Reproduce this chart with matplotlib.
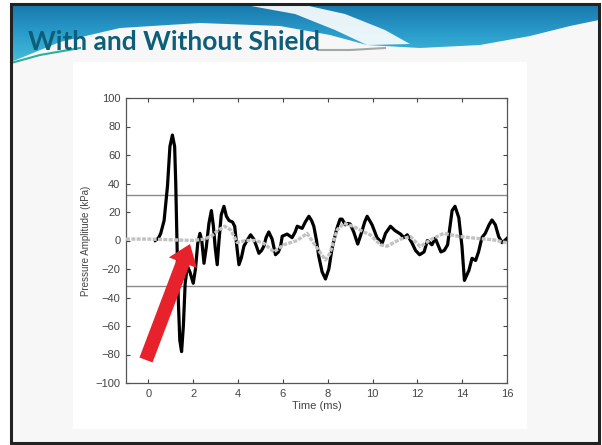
import matplotlib
matplotlib.use("Agg")
import matplotlib.pyplot as plt
import numpy as np
from matplotlib.patches import Polygon, Rectangle
from matplotlib.colors import LinearSegmentedColormap

# data
# unshielded (black) trace
t_open = [0.30, 0.45, 0.55, 0.70, 0.85, 0.96, 1.07, 1.17, 1.22, 1.26, 1.33, 1.40,
          1.48, 1.56, 1.64, 1.74, 1.85, 2.00, 2.10, 2.20, 2.30, 2.38, 2.48, 2.58, 2.70,
          2.81, 2.90, 2.98, 3.07, 3.15, 3.25, 3.37, 3.48, 3.60, 3.75, 3.85, 3.95, 4.04,
          4.15, 4.26, 4.40, 4.56, 4.70, 4.82, 4.93, 5.05, 5.15, 5.25, 5.37, 5.52, 5.67,
          5.80, 5.90, 5.97, 6.19, 6.41, 6.55, 6.64, 6.86, 7.00, 7.16, 7.28, 7.38, 7.50,
          7.60, 7.75, 7.90, 8.05, 8.20, 8.40, 8.55, 8.64, 8.79, 8.90, 9.00, 9.16, 9.34,
          9.53, 9.65, 9.76, 9.87, 9.98, 10.20, 10.43, 10.58, 10.80, 11.00, 11.25, 11.40,
          11.55, 11.77, 11.92, 12.10, 12.30, 12.45, 12.65, 12.80, 13.05, 13.20, 13.35,
          13.55, 13.68, 13.85, 13.99, 14.10, 14.30, 14.44, 14.60, 14.73, 14.88, 15.03,
          15.20, 15.33, 15.48, 15.63, 15.78, 15.90, 16.00]
p_open = [0, 1.7, 5, 14, 38, 66, 74, 66, 40, 10, -40, -70,
          -78, -60, -30, -18, -22, -30, -20, -2, 5, 0, -16, -5, 12,
          21, 10, -5, -17, 0, 18, 24, 17, 14, 13, 10, -5, -17,
          -12, -4, 0, 4, 1, -4, -9, -7, -4, 2, 6, 1, -10,
          -8, -4, 3, 4.5, 2, 6, 10, 8.5, 13, 17, 14, 10, 0,
          -11, -22, -27, -20, -5, 8, 15, 15, 11, 12, 11.6, 6, -2.5,
          6.5, 13, 17, 14, 11, 2, -2, 5, 10, 7, 4.5, 2,
          4, -2, -7, -10, -8, 0, -3, 1.5, -8, -7, -3,
          21, 24, 16, -4, -28, -21, -12.5, -14, -8, 2, 5,
          11, 14.4, 11, 2.7, -1.5, 0, 1.5]

# shielded (grey) trace
t_shield = [-1.0, 0.0, 1.0, 2.0, 2.5, 2.8, 3.1, 3.4, 3.67, 3.96, 4.34, 4.78, 5.15, 5.60,
            6.04, 6.64, 7.08, 7.38, 7.60, 7.90, 8.10, 8.42, 8.72, 9.16, 9.60, 9.90, 10.35,
            10.65, 11.25, 11.69, 12.13, 12.58, 13.17, 13.92, 14.66, 15.40, 15.84, 16.0]
p_shield = [1, 1, 0.5, 0, 1, 3, 7, 10, 7.4, -1.4, 0, 0, -2, -8,
            -3, 0, 5, -2, -7, -13.7, -9, 7.4, 12, 9.8, 6, 4, -3,
            -4, 1, 2.7, -4.3, 0.5, 5, 2.7, 1.5, 0.5, -1.2, -1.5]

threshold = 32
x_ticks = list(range(0, 17, 2))
y_ticks = list(range(-100, 101, 20))

W, H = 602, 445
fig = plt.figure(figsize=(W / 100, H / 100), dpi=100, facecolor="white")

# slide background in pixel coordinates (y down)
bg = fig.add_axes([0, 0, 1, 1], zorder=0)
bg.set_xlim(0, W)
bg.set_ylim(H, 0)
bg.axis("off")

bg.add_patch(Rectangle((11, 4), 588, 439, facecolor="#f7f7f7", edgecolor="none"))
bg.add_patch(Rectangle((73, 62), 454, 367, facecolor="white", edgecolor="none"))

# blue header band
band = Polygon([(11, 4), (599, 4), (599, 20), (570, 26), (530, 36), (480, 45), (420, 48),
                (367, 45), (330, 35), (280, 26), (200, 23), (120, 28), (60, 42), (11, 62)],
               closed=True, facecolor="none", edgecolor="none")
bg.add_patch(band)
grad = np.linspace(0, 1, 64).reshape(-1, 1)
cmap = LinearSegmentedColormap.from_list("hdr", ["#1778ab", "#2a9ccb", "#45bcd8"])
im = bg.imshow(grad, cmap=cmap, extent=(11, 599, 62, 4), aspect="auto", zorder=1)
im.set_clip_path(band)
bg.set_xlim(0, W)
bg.set_ylim(H, 0)

# white swoosh inside the band
bg.add_patch(Polygon([(240, 4), (300, 4), (345, 14), (385, 30), (410, 44), (367, 45),
                      (335, 30), (295, 14)], closed=True, facecolor="white",
                     edgecolor="none", alpha=0.9, zorder=2))
bg.plot([11, 40, 80], [63, 55, 48], color="#2fae9a", lw=1.5, zorder=2)
bg.plot([318, 350, 385], [50, 50, 48], color="#a0a8a8", lw=1.5, zorder=2)

# slide frame
bg.add_patch(Rectangle((11, 4), 588, 439, facecolor="none", edgecolor="#222222",
                       lw=2.2, zorder=3))

bg.text(28, 42, "With and Without Shield", fontsize=19, fontweight="bold",
        color="#0d5e78", family="Lato", va="center", ha="left", zorder=4)

# chart
ax = fig.add_axes([126 / W, 1 - 383 / H, (507 - 126) / W, (383 - 98) / H], zorder=2)
ax.set_facecolor("white")
ax.axhline(threshold, color="#8a8a8a", lw=1.0, zorder=1)
ax.axhline(-threshold, color="#8a8a8a", lw=1.0, zorder=1)
ax.plot(t_open, p_open, color="black", lw=2.3, zorder=2, solid_joinstyle="round")
ax.plot(t_shield, p_shield, color="#c2c2c2", lw=2.4, ls=(0, (1.2, 0.4)), zorder=3)

ax.set_xlim(-1, 16)
ax.set_ylim(-100, 100)
ax.set_xticks(x_ticks)
ax.set_yticks(y_ticks)
ax.tick_params(direction="in", length=3, width=0.8, top=True, right=True,
               labelsize=8, labelcolor="#444444", color="#444444", pad=4)
for lab in ax.get_xticklabels() + ax.get_yticklabels():
    lab.set_family("Liberation Sans")
for sp in ax.spines.values():
    sp.set_color("#555555")
    sp.set_linewidth(0.9)
ax.set_xlabel("Time (ms)", fontsize=8, color="#444444", family="Liberation Sans", labelpad=2)
ax.set_ylabel("Pressure Amplitude (kPa)", fontsize=7, color="#444444",
              family="Liberation Sans", labelpad=3)

# red arrow on top
top = fig.add_axes([0, 0, 1, 1], zorder=5)
top.set_xlim(0, W)
top.set_ylim(H, 0)
top.axis("off")
top.patch.set_alpha(0)
tail = np.array([146.0, 360.0])
tip = np.array([190.0, 244.0])
u = (tip - tail) / np.linalg.norm(tip - tail)
n = np.array([-u[1], u[0]])
head_len, head_w, shaft_w = 20, 15, 7
base = tip - u * head_len
pts = [tail + n * shaft_w, base + n * shaft_w, base + n * head_w, tip,
       base - n * head_w, base - n * shaft_w, tail - n * shaft_w]
top.add_patch(Polygon(pts, closed=True, facecolor="#e8222a", edgecolor="none"))

fig.savefig("out.png", dpi=100)
